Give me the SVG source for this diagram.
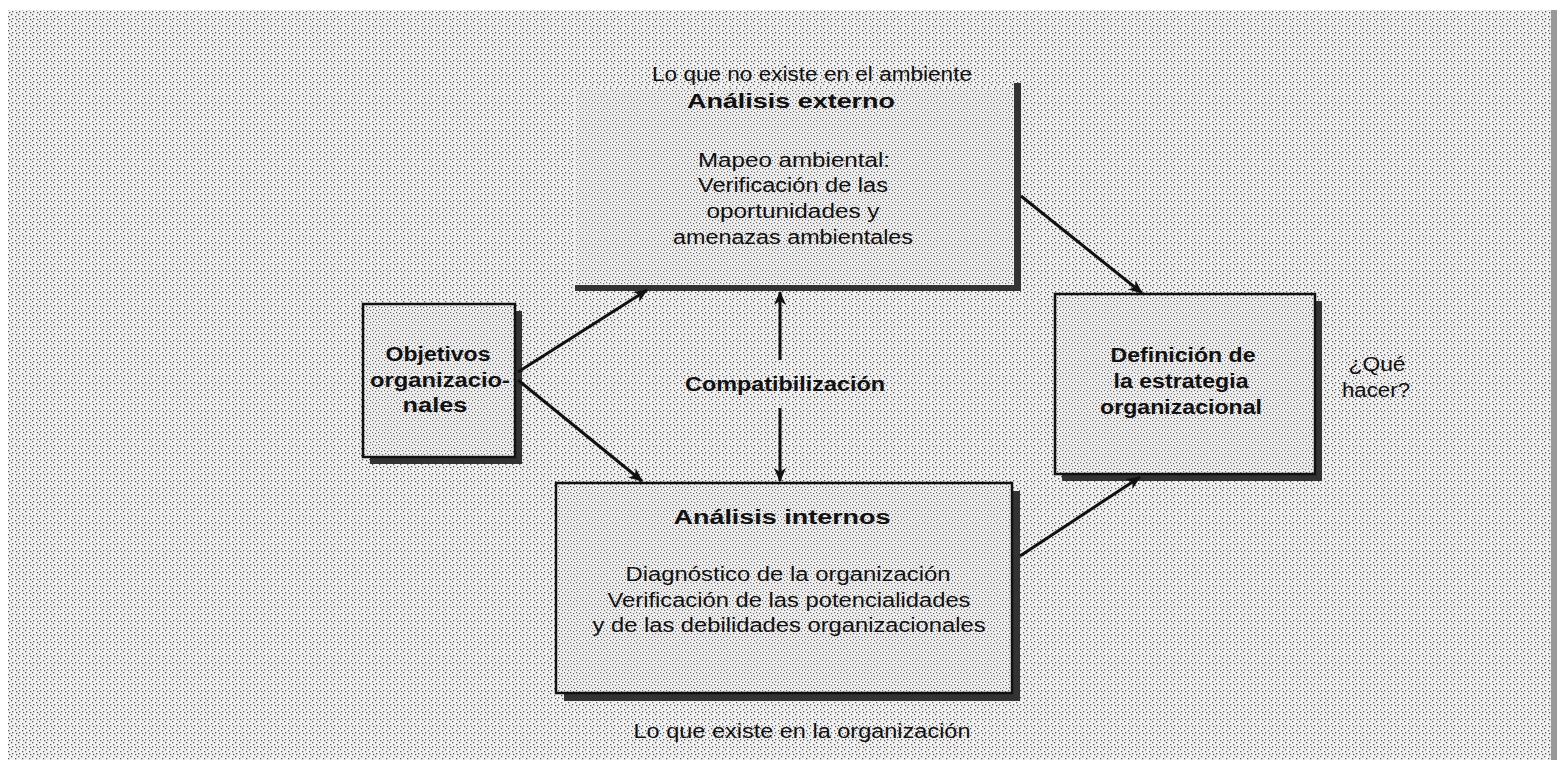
<svg xmlns="http://www.w3.org/2000/svg" width="1566" height="763" viewBox="0 0 1566 763">
<defs>
<pattern id="ht" width="7" height="7" patternUnits="userSpaceOnUse">
<rect x="1" y="2" width="1.3" height="1.3" fill="#555"/>
<rect x="4" y="0" width="1.3" height="1.3" fill="#555"/>
<rect x="5" y="4" width="1.3" height="1.3" fill="#555"/>
<rect x="2" y="5" width="1.3" height="1.3" fill="#555"/>
</pattern>
<pattern id="htd" width="6" height="6" patternUnits="userSpaceOnUse">
<rect x="0" y="0" width="1.2" height="1.2" fill="#666"/>
<rect x="3" y="1" width="1.2" height="1.2" fill="#666"/>
<rect x="1" y="3" width="1.2" height="1.2" fill="#666"/>
<rect x="4" y="4" width="1.2" height="1.2" fill="#666"/>
</pattern>
<marker id="ah" viewBox="0 0 14 12" refX="13" refY="6" markerWidth="14" markerHeight="12" markerUnits="userSpaceOnUse" orient="auto">
<path d="M0,0 L14,6 L0,12 L4,6 z" fill="#111"/>
</marker>
</defs>
<style>
.t{font-family:"Liberation Sans",Arial,sans-serif;font-size:20px;fill:#111;text-anchor:middle}
.b{font-weight:bold}
.bg{fill:#f0f0f0}
.box{fill:url(#htd);stroke:#111;stroke-width:2.5}
.sh{fill:#333}
.c{stroke:#111;stroke-width:3;fill:none;marker-end:url(#ah)}
</style>
<rect x="0" y="0" width="1566" height="763" fill="#fff"/>
<rect x="8" y="10" width="1549" height="750" fill="#f2f2f2"/>
<rect x="8" y="10" width="1549" height="750" fill="url(#ht)"/>
<rect x="1551" y="10" width="6" height="750" fill="#999"/>

<text class="t" x="812" y="81" textLength="320" lengthAdjust="spacingAndGlyphs">Lo que no existe en el ambiente</text>

<g id="externo">
<rect x="575" y="88" width="440" height="198" class="bg"/>
<rect x="575" y="88" width="440" height="198" fill="url(#htd)"/>
<rect x="1014" y="83" width="7" height="208" class="sh"/>
<rect x="575" y="285" width="446" height="6" class="sh"/>
<text class="t b" x="791" y="108" textLength="208" lengthAdjust="spacingAndGlyphs">Análisis externo</text>
<text class="t" x="794" y="167" textLength="192" lengthAdjust="spacingAndGlyphs">Mapeo ambiental:</text>
<text class="t" x="793" y="192" textLength="190" lengthAdjust="spacingAndGlyphs">Verificación de las</text>
<text class="t" x="793" y="218" textLength="173" lengthAdjust="spacingAndGlyphs">oportunidades y</text>
<text class="t" x="793" y="244" textLength="240" lengthAdjust="spacingAndGlyphs">amenazas ambientales</text>
</g>

<g id="objetivos">
<rect x="370" y="311" width="152" height="153" class="sh"/>
<rect x="363" y="304" width="152" height="153" class="bg"/>
<rect x="363" y="304" width="152" height="153" class="box"/>
<text class="t b" x="438" y="361" textLength="105" lengthAdjust="spacingAndGlyphs">Objetivos</text>
<text class="t b" x="440" y="387" textLength="140" lengthAdjust="spacingAndGlyphs">organizacio-</text>
<text class="t b" x="435" y="412" textLength="65" lengthAdjust="spacingAndGlyphs">nales</text>
</g>

<g id="internos">
<rect x="564" y="491" width="456" height="210" class="sh"/>
<rect x="556" y="483" width="456" height="210" class="bg"/>
<rect x="556" y="483" width="456" height="210" class="box"/>
<text class="t b" x="782" y="524" textLength="217" lengthAdjust="spacingAndGlyphs">Análisis internos</text>
<text class="t" x="788" y="581" textLength="325" lengthAdjust="spacingAndGlyphs">Diagnóstico de la organización</text>
<text class="t" x="789" y="607" textLength="363" lengthAdjust="spacingAndGlyphs">Verificación de las potencialidades</text>
<text class="t" x="789" y="632" textLength="393" lengthAdjust="spacingAndGlyphs">y de las debilidades organizacionales</text>
</g>

<text class="t" x="802" y="738" textLength="337" lengthAdjust="spacingAndGlyphs">Lo que existe en la organización</text>

<g id="definicion">
<rect x="1062" y="301" width="260" height="180" class="sh"/>
<rect x="1055" y="294" width="260" height="180" class="bg"/>
<rect x="1055" y="294" width="260" height="180" class="box"/>
<text class="t b" x="1183" y="362" textLength="145" lengthAdjust="spacingAndGlyphs">Definición de</text>
<text class="t b" x="1181" y="388" textLength="135" lengthAdjust="spacingAndGlyphs">la estrategia</text>
<text class="t b" x="1181" y="414" textLength="162" lengthAdjust="spacingAndGlyphs">organizacional</text>
</g>

<g id="quehacer">
<text class="t" x="1377" y="371" textLength="57" lengthAdjust="spacingAndGlyphs">¿Qué</text>
<text class="t" x="1376" y="397" textLength="68" lengthAdjust="spacingAndGlyphs">hacer?</text>
</g>

<g id="compat">
<text class="t b" x="785" y="391" textLength="200" lengthAdjust="spacingAndGlyphs">Compatibilización</text>
</g>

<g id="connectors">
<path class="c" d="M518,372 L647,290"/>
<path class="c" d="M518,380 L642,481"/>
<path class="c" d="M780,360 L780,292"/>
<path class="c" d="M780,408 L780,481"/>
<path class="c" d="M1021,196 L1142,293"/>
<path class="c" d="M1020,556 L1140,477"/>
</g>
</svg>
